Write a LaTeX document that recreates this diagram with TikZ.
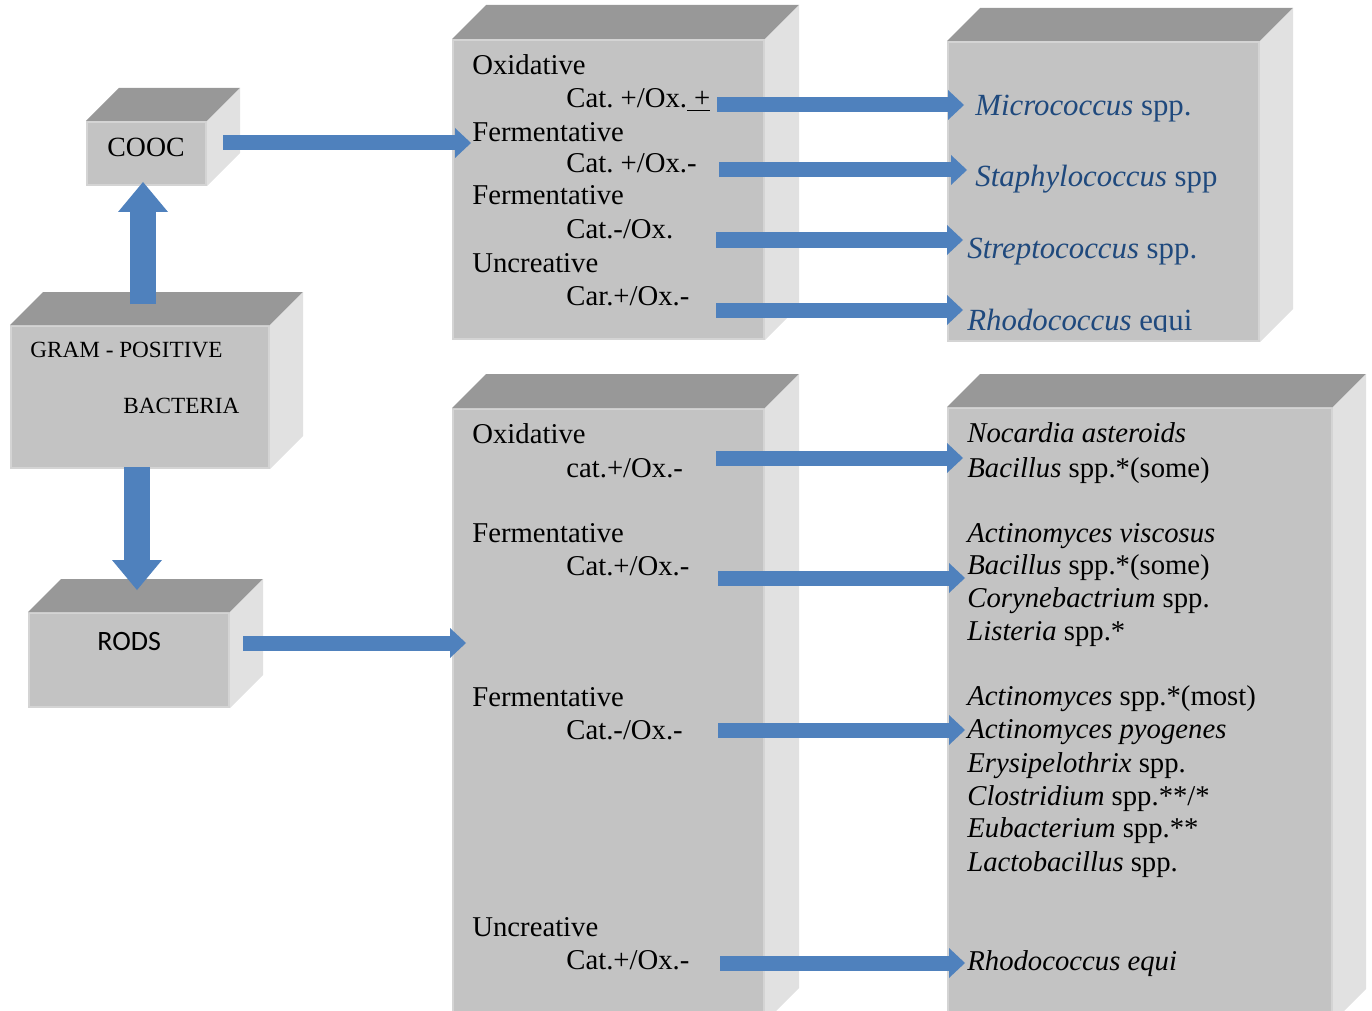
\documentclass[tikz,border=0pt]{standalone}
\usepackage{fontspec}
\setmainfont{Liberation Serif}
\newfontfamily\calibri{Carlito}
\usepackage{tikz}
\usetikzlibrary{arrows.meta}
\frenchspacing
\definecolor{cubefront}{RGB}{195,195,195}
\definecolor{cubetopc}{RGB}{152,152,152}
\definecolor{cubesidec}{RGB}{225,225,225}
\definecolor{cubeedge}{RGB}{212,212,212}
\definecolor{arrowblue}{RGB}{79,129,189}
\definecolor{genusblue}{RGB}{31,73,125}

% top and right faces of a cube whose front face is node #1, depth #2
\newcommand{\cubefaces}[2]{%
  \fill[topface] (#1.north west) -- ++(#2,-#2) -- ([shift={(#2,-#2)}]#1.north east) -- (#1.north east) -- cycle;
  \fill[sideface] (#1.north east) -- ++(#2,-#2) -- ([shift={(#2,-#2)}]#1.south east) -- (#1.south east) -- cycle;}

\begin{document}
\begin{tikzpicture}[x=0.5pt,y=0.5pt,yscale=-1,
  frontface/.style={fill=cubefront, draw=cubeedge, line width=1pt, inner sep=0pt, anchor=north west},
  topface/.style={fill=cubetopc},
  sideface/.style={fill=cubesidec},
  blockarrow/.style={draw=arrowblue, line width=7.5pt, -{Triangle[length=8pt,width=15pt,line width=0pt]}},
  bigarrow/.style={draw=arrowblue, line width=13pt, -{Triangle[length=15pt,width=25pt,line width=0pt]}},
  txt/.style={anchor=base west, inner sep=0pt, font=\fontsize{14.35}{16.5}\selectfont},
  genus/.style={anchor=base west, inner sep=0pt, text=genusblue, font=\fontsize{15.4}{18}\selectfont}]
\useasboundingbox (0,0) rectangle (1372,1011);
\clip (0,0) rectangle (1372,1011);

%Cube COOC
\node[frontface, minimum width=59.5pt, minimum height=31.5pt] (cooc) at (86,121) {};
\cubefaces{cooc}{33}
%Cube GRAM - POSITIVE BACTERIA
\node[frontface, minimum width=129pt, minimum height=71pt] (gram) at (10,325) {};
\cubefaces{gram}{33}
%Cube RODS
\node[frontface, minimum width=100pt, minimum height=47pt] (rods) at (28,612) {};
\cubefaces{rods}{33}
%Cube tests, cocci
\node[frontface, minimum width=155.5pt, minimum height=149.5pt] (cocctest) at (452,39) {};
\cubefaces{cocctest}{34}
%Cube genera, cocci
\node[frontface, minimum width=155.5pt, minimum height=149.5pt] (coccgen) at (947,41) {};
\cubefaces{coccgen}{33}
%Cube tests, rods
\node[frontface, minimum width=155.5pt, minimum height=306pt] (rodtest) at (452,408) {};
\cubefaces{rodtest}{34}
%Cube genera, rods
\node[frontface, minimum width=192pt, minimum height=306.5pt] (rodgen) at (947,407) {};
\cubefaces{rodgen}{33}

% arrow ends
\coordinate (gramup) at (143,304);
\coordinate (coocin) at (143,182);
\coordinate (gramdown) at (137,467);
\coordinate (rodsin) at (137,590);
\coordinate (coocout) at (223,143);
\coordinate (cocctestin) at (471,143);
\coordinate (rodsout) at (243,643);
\coordinate (rodtestin) at (466,643);
\coordinate (ca1) at (717,105);  \coordinate (cb1) at (964,105);
\coordinate (ca2) at (719,170);  \coordinate (cb2) at (967,170);
\coordinate (ca3) at (716,240);  \coordinate (cb3) at (963,240);
\coordinate (ca4) at (716,310);  \coordinate (cb4) at (963,310);
\coordinate (ra1) at (716,458);  \coordinate (rb1) at (963,458);
\coordinate (ra2) at (718,578);  \coordinate (rb2) at (965,578);
\coordinate (ra3) at (718,730);  \coordinate (rb3) at (965,730);
\coordinate (ra4) at (720,963);  \coordinate (rb4) at (965,963);

%Block Arrows
\draw[bigarrow] (gramup) -- (coocin);
\draw[bigarrow] (gramdown) -- (rodsin);
\draw[blockarrow] (coocout) -- (cocctestin);
\draw[blockarrow] (rodsout) -- (rodtestin);
\draw[blockarrow] (ca1) -- (cb1);
\draw[blockarrow] (ca2) -- (cb2);
\draw[blockarrow] (ca3) -- (cb3);
\draw[blockarrow] (ca4) -- (cb4);
\draw[blockarrow] (ra1) -- (rb1);
\draw[blockarrow] (ra2) -- (rb2);
\draw[blockarrow] (ra3) -- (rb3);
\draw[blockarrow] (ra4) -- (rb4);

% Text Node
\node[anchor=base west, inner sep=0pt, font=\fontsize{13.9}{16}\selectfont] (cooctext) at (107,157) {COOC};
% Text Node
\node[anchor=base west, inner sep=0pt, font=\fontsize{11.6}{14}\selectfont] (gramtext) at (30,357) {GRAM - POSITIVE};
% Text Node
\node[anchor=base west, inner sep=0pt, font=\fontsize{11.6}{14}\selectfont] (bacttext) at (123,413) {BACTERIA};
% Text Node
\node[anchor=base west, inner sep=0pt, font=\calibri\fontsize{14}{16}\selectfont] (rodstext) at (97,650) {RODS};

% Text Node
\node[txt] (ox1) at (472,75) {Oxidative};
\node[txt] (ox1r) at (566,108) {Cat. +/Ox.\underline{\ +}};
\node[txt] (fe1) at (472,142) {Fermentative};
\node[txt] (fe1r) at (566,173) {Cat. +/Ox.-};
\node[txt] (fe2) at (472,205) {Fermentative};
\node[txt] (fe2r) at (566,238) {Cat.-/Ox.};
\node[txt] (un1) at (472,272) {Uncreative};
\node[txt] (un1r) at (566,306) {Car.+/Ox.-};

% Text Node
\node[genus] (micro) at (975,116) {\textit{Micrococcus} spp.};
\node[genus] (staph) at (975,187) {\textit{Staphylococcus} spp};
\node[genus] (strep) at (967,258) {\textit{Streptococcus} spp.};
\begin{scope}
\clip (940,280) rectangle (1260,331);
\node[genus] (rhodo) at (967,330) {\textit{Rhodococcus} equi};
\end{scope}

% Text Node
\node[txt] (ox2) at (472,443) {Oxidative};
\node[txt] (ox2r) at (566,477) {cat.+/Ox.-};
\node[txt] (fe3) at (472,542) {Fermentative};
\node[txt] (fe3r) at (566,575) {Cat.+/Ox.-};
\node[txt] (fe4) at (472,706) {Fermentative};
\node[txt] (fe4r) at (566,739) {Cat.-/Ox.-};
\node[txt] (un2) at (472,936) {Uncreative};
\node[txt] (un2r) at (566,969) {Cat.+/Ox.-};

% Text Node
\node[txt] (g1) at (967,442) {\textit{Nocardia asteroids}};
\node[txt] (g2) at (967,477) {\textit{Bacillus} spp.*(some)};
\node[txt] (g3) at (967,542) {\textit{Actinomyces viscosus}};
\node[txt] (g4) at (967,574) {\textit{Bacillus} spp.*(some)};
\node[txt] (g5) at (967,607) {\textit{Corynebactrium} spp.};
\node[txt] (g6) at (967,640) {\textit{Listeria} spp.*};
\node[txt] (g7) at (967,705) {\textit{Actinomyces} spp.*(most)};
\node[txt] (g8) at (967,738) {\textit{Actinomyces pyogenes}};
\node[txt] (g9) at (967,772) {\textit{Erysipelothrix} spp.};
\node[txt] (g10) at (967,805) {\textit{Clostridium} spp.**/*};
\node[txt] (g11) at (967,837) {\textit{Eubacterium} spp.**};
\node[txt] (g12) at (967,871) {\textit{Lactobacillus} spp.};
\node[txt] (g13) at (967,970) {\textit{Rhodococcus equi}};

\end{tikzpicture}
\end{document}
